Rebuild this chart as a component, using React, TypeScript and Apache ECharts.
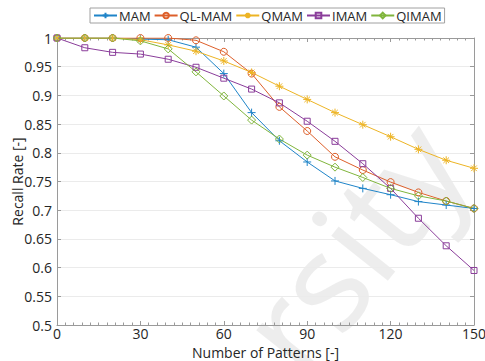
import React, { useEffect, useRef } from "react";
import * as echarts from "echarts";

const patterns = [0, 10, 20, 30, 40, 50, 60, 70, 80, 90, 100, 110, 120, 130, 140, 150];
const seriesNames = ["MAM", "QL-MAM", "QMAM", "IMAM", "QIMAM"];
const mam = [1, 1, 1, 0.998, 0.997, 0.984, 0.938, 0.87, 0.821, 0.784, 0.751, 0.738, 0.727, 0.715, 0.709, 0.703];
const qlmam = [1, 1, 1, 1, 1, 0.996, 0.976, 0.938, 0.88, 0.838, 0.793, 0.77, 0.749, 0.731, 0.716, 0.703];
const qmam = [1, 1, 1, 0.997, 0.988, 0.977, 0.96, 0.94, 0.916, 0.893, 0.87, 0.849, 0.828, 0.806, 0.787, 0.773];
const imam = [1, 0.983, 0.975, 0.972, 0.963, 0.949, 0.93, 0.911, 0.887, 0.855, 0.82, 0.781, 0.738, 0.686, 0.638, 0.595];
const qimam = [1, 1, 1, 0.995, 0.981, 0.941, 0.899, 0.857, 0.824, 0.796, 0.775, 0.757, 0.738, 0.725, 0.716, 0.703];
const xTicks = { min: 0, max: 150, interval: 30 };
const yTicks = { min: 0.5, max: 1, interval: 0.05 };

const colors = ["#1f84c8", "#dd5f2a", "#edb424", "#8a3d9a", "#80b53c"];
const symbols = [
  "path://M5,0V10M0,5H10",
  "path://M5,0A5,5 0 1,1 4.99,0Z",
  "path://M5,0V10M0,5H10M1.5,1.5L8.5,8.5M8.5,1.5L1.5,8.5",
  "path://M0,0H10V10H0Z",
  "path://M5,0L10,5L5,10L0,5Z",
];
const symbolSizes = [8, 7, 8, 6, 8];
const values = [mam, qlmam, qmam, imam, qimam];

const FONT = "'Open Sans', 'Noto Sans', sans-serif";
const TEXT = "#262626";
const AXIS = "#9a9a9a";

export default function App() {
  const ref = useRef<HTMLDivElement>(null);
  useEffect(() => {
    if (!ref.current) return;
    const chart = echarts.init(ref.current, undefined, { renderer: "svg" });
    const baseX = {
      type: "value",
      min: xTicks.min,
      max: xTicks.max,
      interval: xTicks.interval,
      axisLine: { show: true, onZero: false, lineStyle: { color: AXIS, width: 1 } },
      axisTick: { show: true, inside: true, length: 4, lineStyle: { color: AXIS } },
      minorTick: { show: true, splitNumber: 10, length: 2.5, lineStyle: { color: AXIS } },
      splitLine: { show: false },
    };
    const baseY = {
      type: "value",
      min: yTicks.min,
      max: yTicks.max,
      interval: yTicks.interval,
      axisLine: { show: true, onZero: false, lineStyle: { color: AXIS, width: 1 } },
      axisTick: { show: true, inside: true, length: 4, lineStyle: { color: AXIS } },
    };
    chart.setOption({
      animation: false,
      backgroundColor: "#ffffff",
      textStyle: { fontFamily: FONT },
      grid: { left: 57, right: 11, top: 38, bottom: 36, containLabel: false, outerBoundsMode: "none" },
      legend: {
        data: seriesNames,
        left: 90,
        top: 8,
        padding: [1, 3, 1, 3],
        itemGap: 3,
        itemWidth: 23,
        itemHeight: 7,
        borderColor: "#a0a0a0",
        borderWidth: 1,
        borderRadius: 0,
        textStyle: { fontSize: 13, color: TEXT, fontFamily: FONT, padding: [0, 0, 0, -3] },
      },
      xAxis: [
        {
          ...baseX,
          position: "bottom",
          name: "Number of Patterns [-]",
          nameLocation: "middle",
          nameGap: 20,
          nameMoveOverlap: false,
          nameTextStyle: { fontSize: 14, lineHeight: 14, color: TEXT, fontFamily: FONT },
          axisLabel: { fontSize: 14, lineHeight: 14, color: TEXT, margin: 1, fontFamily: FONT },
        },
        { ...baseX, position: "top", axisLabel: { show: false } },
      ],
      yAxis: [
        {
          ...baseY,
          position: "left",
          name: "Recall Rate [-]",
          nameLocation: "middle",
          nameGap: 33,
          nameMoveOverlap: false,
          nameTextStyle: { fontSize: 14, color: TEXT, fontFamily: FONT },
          axisLabel: { fontSize: 14, color: TEXT, margin: 5, fontFamily: FONT },
          splitLine: { show: true, lineStyle: { color: "#ebebeb", width: 1 } },
        },
        { ...baseY, position: "right", axisLabel: { show: false }, splitLine: { show: false } },
      ],
      graphic: [
        {
          type: "text",
          x: 350,
          y: 245,
          rotation: 0.9,
          z: -10,
          silent: true,
          style: {
            text: "rsity",
            fontSize: 135,
            fontFamily: "'Noto Sans', sans-serif",
            fill: "rgba(0,0,0,0.07)",
            align: "center",
            verticalAlign: "middle",
          },
        },
      ],
      series: seriesNames.map((name, i) => ({
        name,
        type: "line",
        data: patterns.map((p, j) => [p, values[i][j]]),
        symbol: symbols[i],
        symbolSize: symbolSizes[i],
        showAllSymbol: true,
        lineStyle: { color: colors[i], width: 1 },
        itemStyle: { color: "none", borderColor: colors[i], borderWidth: 1 },
        emphasis: { disabled: true },
      })),
    });
    return () => chart.dispose();
  }, []);
  return <div ref={ref} style={{ width: 485, height: 361, position: "absolute", left: 0, top: 0 }} />;
}
